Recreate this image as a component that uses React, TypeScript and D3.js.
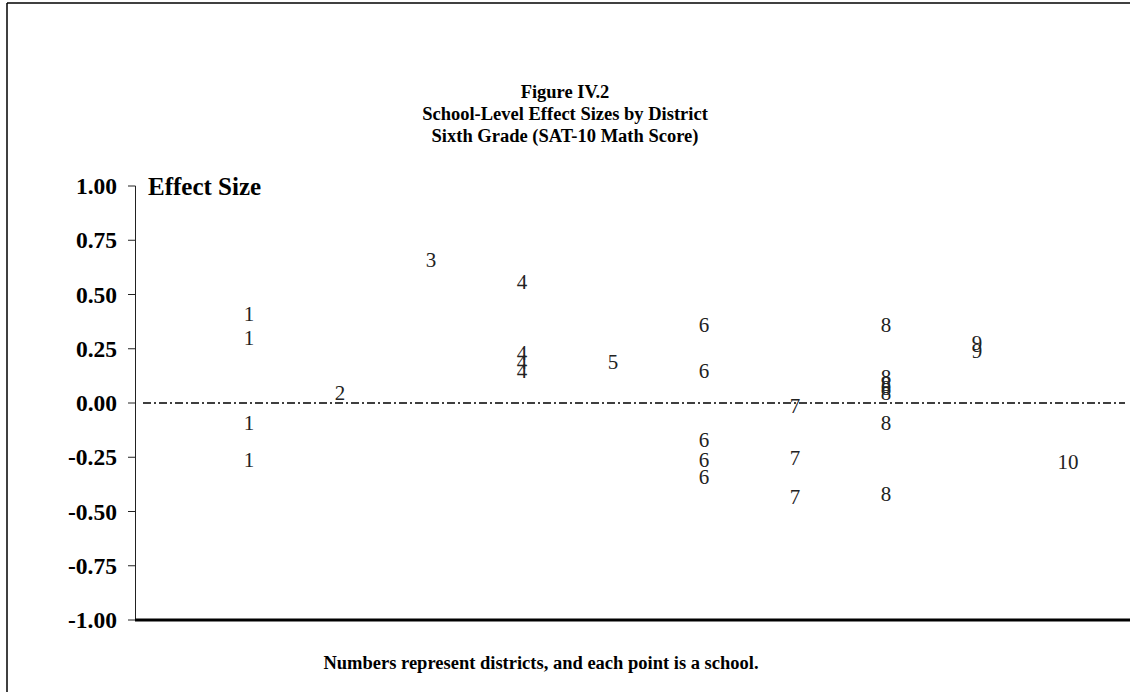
import React from 'react';
import * as d3 from 'd3';

// effect sizes per district, one value per school
const districts = [1, 2, 3, 4, 5, 6, 7, 8, 9, 10];
const d1 = [0.41, 0.30, -0.09, -0.26];
const d2 = [0.05];
const d3v = [0.66];
const d4 = [0.56, 0.23, 0.19, 0.15];
const d5 = [0.19];
const d6 = [0.36, 0.15, -0.17, -0.26, -0.34];
const d7 = [-0.01, -0.25, -0.43];
const d8 = [0.36, 0.12, 0.09, 0.07, 0.05, -0.09, -0.42];
const d9 = [0.28, 0.24];
const d10 = [-0.27];
const schoolValues = [d1, d2, d3v, d4, d5, d6, d7, d8, d9, d10];

const yTicks = [1, 0.75, 0.5, 0.25, 0, -0.25, -0.5, -0.75, -1];
const titleLines = [
  'Figure IV.2',
  'School-Level Effect Sizes by District',
  'Sixth Grade (SAT-10 Math Score)',
];

const W = 1130;
const H = 692;
const serif = '"Liberation Serif", "Times New Roman", serif';
// plain hyphen for negatives, like the original
const fmt = d3.formatLocale({ decimal: '.', thousands: ',', grouping: [3], currency: ['', ''], minus: '-' }).format('.2f');

export default function App() {
  const x = d3.scaleLinear().domain([1, 10]).range([249, 1068]);
  const y = d3.scaleLinear().domain([-1, 1]).range([620, 186]);

  const points = districts.flatMap((d, i) =>
    schoolValues[i].map((v, j) => ({ district: d, value: v, key: `${d}-${j}` }))
  );

  return (
    <svg width={W} height={H} style={{ position: 'absolute', left: 0, top: 0, background: '#fff' }}>
      {/* outer frame (left and top edges only visible) */}
      <line x1={7} y1={3} x2={7} y2={H} stroke="#000" strokeWidth={1.5} />
      <line x1={7} y1={3} x2={W} y2={3} stroke="#000" strokeWidth={1.5} />

      {titleLines.map((t, i) => (
        <text key={t} x={565} y={98 + i * 22} textAnchor="middle" fontFamily={serif}
          fontWeight="bold" fontSize={18.5}>{t}</text>
      ))}

      {/* y axis */}
      <line x1={135.5} y1={y(1)} x2={135.5} y2={y(-1)} stroke="#222" strokeWidth={1} />
      {yTicks.map(t => (
        <g key={t} transform={`translate(0,${y(t)})`}>
          <line x1={128} x2={135.5} stroke="#222" strokeWidth={1} />
          <text x={117} dy="0.35em" textAnchor="end" fontFamily={serif} fontWeight="bold"
            fontSize={23.5}>{fmt(t)}</text>
        </g>
      ))}
      <text x={148} y={y(1)} dy="0.35em" fontFamily={serif} fontWeight="bold" fontSize={25}>
        Effect Size
      </text>

      {/* zero reference line */}
      <line x1={143} x2={1125} y1={y(0)} y2={y(0)} stroke="#000" strokeWidth={1.5}
        strokeDasharray="8,3,2,3" />

      {/* bottom axis */}
      <line x1={135} x2={W} y1={y(-1)} y2={y(-1)} stroke="#000" strokeWidth={3} />

      {points.map(p => (
        <text key={p.key} x={x(p.district)} y={y(p.value)} dy="0.35em" textAnchor="middle"
          fontFamily={serif} fontSize={21} fill="#222">{p.district}</text>
      ))}

      <text x={541} y={669} textAnchor="middle" fontFamily={serif} fontWeight="bold" fontSize={18.5}>
        Numbers represent districts, and each point is a school.
      </text>
    </svg>
  );
}
